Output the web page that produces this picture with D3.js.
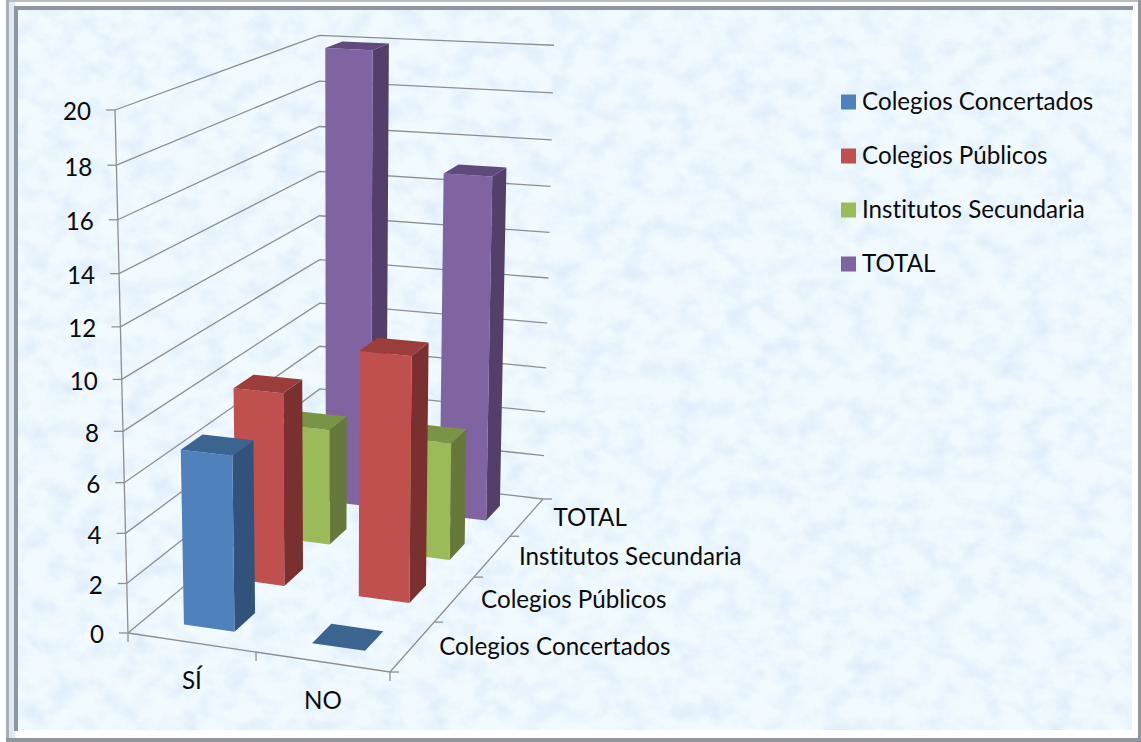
<!DOCTYPE html>
<html>
<head>
<meta charset="utf-8">
<script src="https://cdnjs.cloudflare.com/ajax/libs/d3/7.8.5/d3.min.js"></script>
<style>
    html, body { margin: 0; padding: 0; background: #ffffff; }
    svg { display: block; }
    text { font-family: Lato, "Open Sans", sans-serif; fill: #0b0b0b; font-variant-ligatures: none; }
</style>
</head>
<body>
<svg id="chart"></svg>
<script>
var categories = ["SÍ", "NO"]
var seriesNames = ["Colegios Concertados", "Colegios Públicos", "Institutos Secundaria", "TOTAL"]
var concertados = [7, 0]
var publicos = [8, 10]
var institutos = [5, 5]
var total = [20, 15]
var valueTicks = [0, 2, 4, 6, 8, 10, 12, 14, 16, 18, 20]

var seriesValues = [concertados, publicos, institutos, total]

var dimensions = { width: 1141, height: 742 }

// front, side, top
var colors = [
    ["#4f81bd", "#31527a", "#3b6490"],
    ["#c0504d", "#7a302e", "#9a3d3b"],
    ["#9bbb59", "#66793a", "#7a9445"],
    ["#8064a2", "#533f69", "#604a7b"]
]

var svg = d3.select("#chart")
            .attr("width", dimensions.width)
            .attr("height", dimensions.height)

// corners of the chart box on the page, used to build the perspective
var floorFL = [128, 633], floorFR = [390, 672], floorBR = [543, 499], floorBL = [320, 473]
var wallTopFL = [115, 110], wallTopBR = [554, 47]

function cross(a, b) {
    return [a[1] * b[2] - a[2] * b[1], a[2] * b[0] - a[0] * b[2], a[0] * b[1] - a[1] * b[0]]
}

// floor homography: (u, v) unit square to the floor quad
var dx1 = floorFR[0] - floorBR[0], dx2 = floorBL[0] - floorBR[0], dx3 = floorFL[0] - floorFR[0] + floorBR[0] - floorBL[0]
var dy1 = floorFR[1] - floorBR[1], dy2 = floorBL[1] - floorBR[1], dy3 = floorFL[1] - floorFR[1] + floorBR[1] - floorBL[1]
var det = dx1 * dy2 - dx2 * dy1
var g = (dx3 * dy2 - dx2 * dy3) / det
var h = (dx1 * dy3 - dx3 * dy1) / det
var a = floorFR[0] - floorFL[0] + g * floorFR[0], b = floorBL[0] - floorFL[0] + h * floorBL[0], c = floorFL[0]
var d = floorFR[1] - floorFL[1] + g * floorFR[1], e = floorBL[1] - floorFL[1] + h * floorBL[1], f = floorFL[1]

// verticals meet at one vanishing point below the page
var lineA = cross([floorFL[0], floorFL[1], 1], [wallTopFL[0], wallTopFL[1], 1])
var lineB = cross([floorBR[0], floorBR[1], 1], [wallTopBR[0], wallTopBR[1], 1])
var vp = cross(lineA, lineB)
vp = [vp[0] / vp[2], vp[1] / vp[2]]
var s = (wallTopFL[1] - f) / (vp[1] - wallTopFL[1])

function project(u, v, w) {
    var W = g * u + h * v + 1 + w * s
    return [(a * u + b * v + c + w * s * vp[0]) / W, (d * u + e * v + f + w * s * vp[1]) / W]
}

var xScale = d3.scaleBand().domain(categories).range([0, 1]).paddingInner(0.6).paddingOuter(0.3).align(0.52)
var depthScale = d3.scaleBand().domain(seriesNames).range([0, 1]).paddingInner(0.6).paddingOuter(0.3)
var valueScale = d3.scaleLinear().domain([0, 20]).range([0, 1])

var pathLine = d3.line().curve(d3.curveLinearClosed)

// background
var defs = svg.append("defs")
var mottled = defs.append("filter")
                  .attr("id", "mottled")
                  .attr("x", 0).attr("y", 0).attr("width", "100%").attr("height", "100%")
mottled.append("feTurbulence")
       .attr("type", "fractalNoise")
       .attr("baseFrequency", "0.04 0.05")
       .attr("numOctaves", 4)
       .attr("seed", 7)
mottled.append("feColorMatrix")
       .attr("type", "matrix")
       .attr("values", "0 0 0 0 0.68  0 0 0 0 0.81  0 0 0 0 0.96  2.2 0 0 0 -0.85")

svg.append("rect").attr("width", dimensions.width).attr("height", dimensions.height).attr("fill", "#ffffff")
svg.append("rect").attr("x", 18).attr("y", 9).attr("width", 1114).attr("height", 721).attr("fill", "#f1fafe")
svg.append("rect").attr("x", 18).attr("y", 9).attr("width", 1114).attr("height", 721).attr("filter", "url(#mottled)").attr("opacity", 0.65)

// frame: gray outer edge, pale band, darker inner edge on top and left only
var frame = svg.append("g")
frame.append("rect").attr("x", 7).attr("y", 0).attr("width", 1134).attr("height", 2).attr("fill", "#b8bec4")
frame.append("rect").attr("x", 6).attr("y", 0).attr("width", 3).attr("height", 742).attr("fill", "#a8aeb4")
frame.append("rect").attr("x", 1138).attr("y", 0).attr("width", 3).attr("height", 742).attr("fill", "#8f979f")
frame.append("rect").attr("x", 6).attr("y", 738).attr("width", 1135).attr("height", 4).attr("fill", "#8f979f")
frame.append("rect").attr("x", 9).attr("y", 2).attr("width", 6).attr("height", 736).attr("fill", "#dfe9f3")
frame.append("rect").attr("x", 14).attr("y", 6).attr("width", 4).attr("height", 725).attr("fill", "#8c97a3")
frame.append("rect").attr("x", 14).attr("y", 6).attr("width", 1119).attr("height", 4).attr("fill", "#8c97a3")

// walls and floor
var grid = svg.append("g").attr("fill", "none").attr("stroke", "#8f8f8f").attr("stroke-width", 1.3)

valueTicks.forEach(t => {
    var w = valueScale(t)
    grid.append("path").attr("d", d3.line()([project(0, 0, w), project(0, 1, w), project(1, 1, w)]))
    var p = project(0, 0, w)
    grid.append("path").attr("d", d3.line()([[p[0] - 9, p[1]], p]))
})
grid.append("path").attr("d", d3.line()([project(0, 0, 0), project(0, 0, 1)]))
grid.append("path").attr("d", d3.line()([project(0, 0, 0), project(1, 0, 0), project(1, 1, 0)]))

d3.range(0, 1.01, 0.5).forEach(u => {
    var p = project(u, 0, 0)
    grid.append("path").attr("d", d3.line()([p, [p[0], p[1] + 9]]))
})
d3.range(0, 1.01, 0.25).forEach(v => {
    var p = project(1, v, 0)
    grid.append("path").attr("d", d3.line()([p, [p[0] + 9, p[1]]]))
})

// bars, back row first
var bars = svg.append("g")

d3.range(seriesNames.length - 1, -1, -1).forEach(j => {
    categories.forEach((cat, i) => {
        var u0 = xScale(cat), u1 = u0 + xScale.bandwidth()
        var v0 = depthScale(seriesNames[j]), v1 = v0 + depthScale.bandwidth()
        var w = valueScale(seriesValues[j][i])

        if (w > 0) {
            bars.append("path")
                .attr("d", pathLine([project(u1, v0, 0), project(u1, v1, 0), project(u1, v1, w), project(u1, v0, w)]))
                .attr("fill", colors[j][1])
            bars.append("path")
                .attr("d", pathLine([project(u0, v0, 0), project(u1, v0, 0), project(u1, v0, w), project(u0, v0, w)]))
                .attr("fill", colors[j][0])
        }
        bars.append("path")
            .attr("d", pathLine([project(u0, v0, w), project(u1, v0, w), project(u1, v1, w), project(u0, v1, w)]))
            .attr("fill", colors[j][2])
    })
})

// axis labels
var fontSize = 24.2

valueTicks.forEach(t => {
    var p = project(0, 0, valueScale(t))
    svg.append("text")
       .attr("x", p[0] - 24)
       .attr("y", p[1] + 2)
       .attr("dy", ".35em")
       .attr("text-anchor", "end")
       .style("font-size", fontSize + "px")
       .text(t)
})

categories.forEach(cat => {
    var p = project(xScale(cat) + xScale.bandwidth() / 2, 0, 0)
    svg.append("text")
       .attr("x", p[0] - 1)
       .attr("y", p[1] + 38)
       .attr("dy", ".35em")
       .attr("text-anchor", "middle")
       .style("font-size", fontSize + "px")
       .text(cat)
})

seriesNames.forEach(name => {
    var p = project(1, depthScale(name) + depthScale.bandwidth() / 2, 0)
    svg.append("text")
       .attr("x", p[0] + 26.5)
       .attr("y", p[1] + 0.5)
       .attr("dy", ".35em")
       .style("font-size", fontSize + "px")
       .text(name)
})

// legend
var legendRow = d3.scalePoint().domain(seriesNames).range([102, 264])

seriesNames.forEach((name, j) => {
    svg.append("rect")
       .attr("x", 841)
       .attr("y", legendRow(name) - 7.5)
       .attr("width", 15)
       .attr("height", 15)
       .attr("fill", colors[j][0])
    svg.append("text")
       .attr("x", 862)
       .attr("y", legendRow(name))
       .attr("dy", ".35em")
       .style("font-size", fontSize + "px")
       .text(name)
})
</script>
</body>
</html>
